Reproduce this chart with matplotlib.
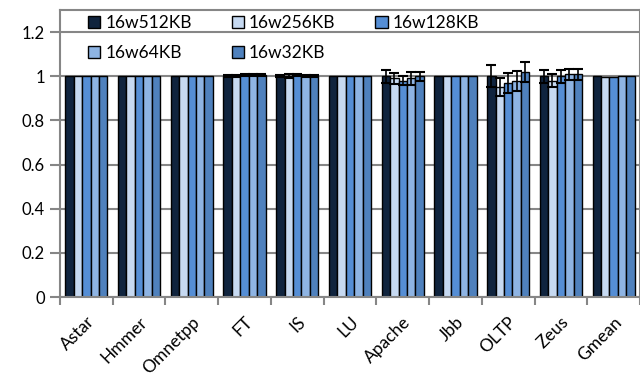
import matplotlib
matplotlib.use("Agg")
import matplotlib.pyplot as plt
import numpy as np

plt.rcParams['font.family'] = ['Lato', 'DejaVu Sans']

# -----------------------------------------------------------------------
# data
# -----------------------------------------------------------------------
benchmarks = ["Astar", "Hmmer", "Omnetpp", "FT", "IS", "LU",
              "Apache", "Jbb", "OLTP", "Zeus", "Gmean"]
configs = ["16w512KB", "16w256KB", "16w128KB", "16w64KB", "16w32KB"]

v512 = [1.0, 1.0, 1.0, 1.0, 1.0, 1.0, 1.0, 1.0, 1.0, 1.0, 1.0]
v256 = [1.0, 1.0, 1.0, 1.0, 1.0, 1.0, 0.99, 1.0, 0.95, 0.98, 0.995]
v128 = [1.0, 1.0, 1.0, 1.005, 1.005, 1.0, 0.98, 1.0, 0.97, 1.0, 0.998]
v64 = [1.0, 1.0, 1.0, 1.005, 1.0, 1.0, 0.99, 1.0, 0.98, 1.01, 1.0]
v32 = [1.0, 1.0, 1.0, 1.005, 1.0, 1.0, 1.0, 1.0, 1.02, 1.01, 1.003]

e512 = [0, 0, 0, 0.005, 0.005, 0, 0.03, 0, 0.05, 0.03, 0]
e256 = [0, 0, 0, 0.005, 0.008, 0, 0.025, 0, 0.04, 0.03, 0]
e128 = [0, 0, 0, 0.005, 0.005, 0, 0.02, 0, 0.045, 0.03, 0]
e64 = [0, 0, 0, 0.005, 0.005, 0, 0.03, 0, 0.045, 0.025, 0]
e32 = [0, 0, 0, 0.005, 0.005, 0, 0.02, 0, 0.045, 0.025, 0]

values = [v512, v256, v128, v64, v32]
errors = [e512, e256, e128, e64, e32]
colors = ["#10243e", "#c6d9f1", "#558ed5", "#8eb4e3", "#4f81bd"]

# -----------------------------------------------------------------------
# plot
# -----------------------------------------------------------------------
fig = plt.figure(figsize=(6.4, 3.79), dpi=100)
ax = fig.add_axes([60 / 640, 82 / 379, 580 / 640, 287 / 379])

gray = "#868686"
x = np.arange(len(benchmarks))
w = 0.16
for i, (vals, errs, c, lab) in enumerate(zip(values, errors, colors, configs)):
    pos = x - 2 * w + i * w
    ax.bar(pos, vals, width=w, color=c, edgecolor="black", linewidth=1.0,
           label=lab, zorder=3)
    errs = np.array(errs)
    m = errs > 0
    ax.errorbar(pos[m], np.array(vals)[m], yerr=errs[m], fmt="none",
                ecolor="black", elinewidth=1.2, capsize=3.5, capthick=1.5,
                zorder=4)

ax.set_xlim(-0.5, len(benchmarks) - 0.5)
ax.set_ylim(0, 1.3)
ax.set_yticks([0, 0.2, 0.4, 0.6, 0.8, 1.0, 1.2])
ax.set_yticklabels(["0", "0.2", "0.4", "0.6", "0.8", "1", "1.2"], fontsize=12)
ax.yaxis.grid(True, color=gray, linewidth=1.5, zorder=0)
ax.set_axisbelow(True)

ax.set_xticks(x)
ax.set_xticklabels(benchmarks, rotation=45, ha="right", rotation_mode="anchor",
                   fontsize=12.5)
ax.set_xticks(np.arange(len(benchmarks) + 1) - 0.5, minor=True)
ax.tick_params(axis="x", which="major", length=0, pad=12)
ax.tick_params(axis="x", which="minor", length=6, width=1.5, color=gray)
ax.tick_params(axis="y", length=7, width=1.5, color=gray, pad=4)

for s in ax.spines.values():
    s.set_color(gray)
    s.set_linewidth(1.5)
ax.spines["bottom"].set_zorder(5)

# legend filled row by row like the original
h, l = ax.get_legend_handles_labels()
order = [0, 3, 1, 4, 2]
ax.legend([h[k] for k in order], [l[k] for k in order],
          loc="upper left", bbox_to_anchor=(0.03, 1.02), ncol=3, frameon=False,
          fontsize=12.5, handlelength=0.7, handleheight=0.7, handletextpad=0.3,
          columnspacing=2.3, labelspacing=0.85, borderaxespad=0.2)

fig.savefig("out.png", dpi=100)
